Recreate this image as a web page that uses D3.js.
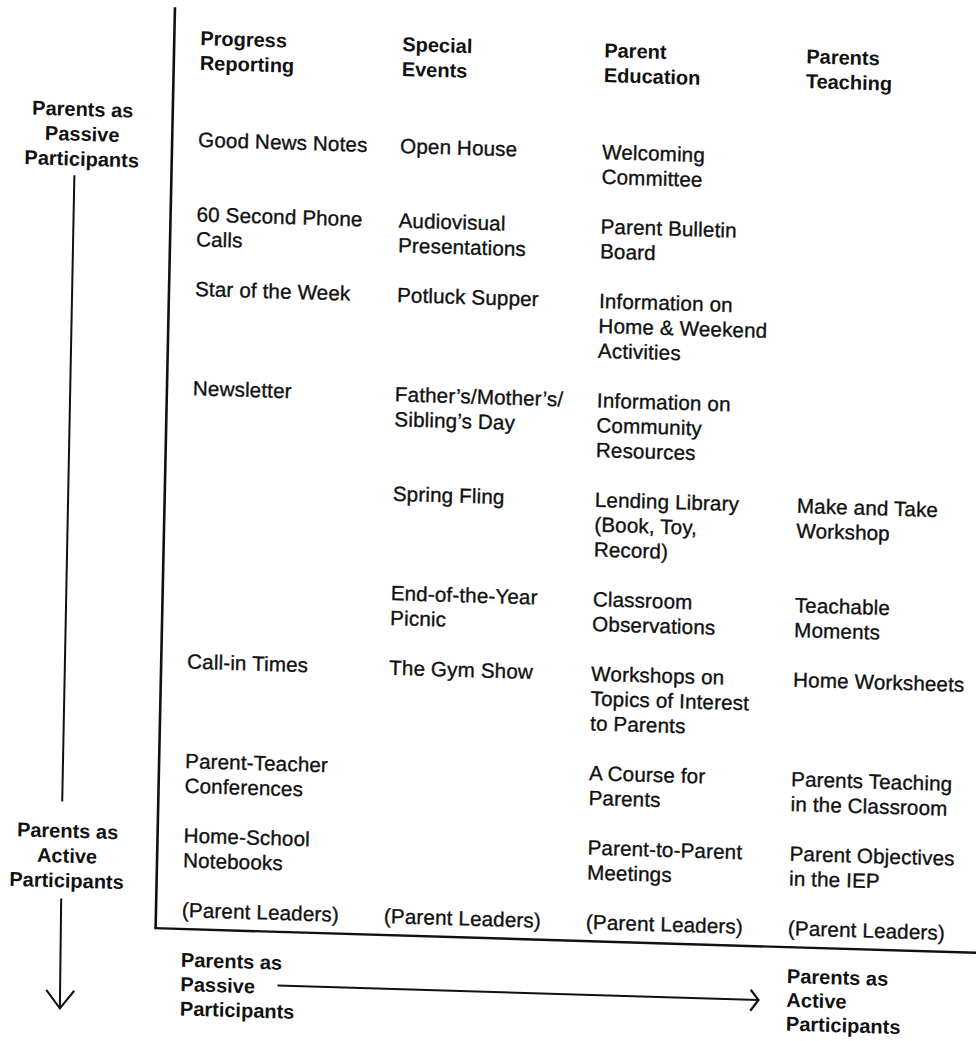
<!DOCTYPE html>
<html>
<head>
<meta charset="utf-8">
<script src="https://cdn.jsdelivr.net/npm/d3@7"></script>
<style>
  html, body { margin: 0; padding: 0; background: #fff; }
  svg { display: block; }
  text { font-family: "Liberation Sans", Arial, Helvetica, sans-serif; fill: #111; }
  text.cell { stroke: #111; stroke-width: 0.35px; letter-spacing: 0.15px; }
</style>
</head>
<body>
<script>
// ---------- data ----------
const columnHeaders = [
  "Progress\nReporting",
  "Special\nEvents",
  "Parent\nEducation",
  "Parents\nTeaching"
];
const row1  = ["Good News Notes", "Open House", "Welcoming\nCommittee", ""];
const row2  = ["60 Second Phone\nCalls", "Audiovisual\nPresentations", "Parent Bulletin\nBoard", ""];
const row3  = ["Star of the Week", "Potluck Supper", "Information on\nHome & Weekend\nActivities", ""];
const row4  = ["Newsletter", "Father’s/Mother’s/\nSibling’s Day", "Information on\nCommunity\nResources", ""];
const row5  = ["", "Spring Fling", "Lending Library\n(Book, Toy,\nRecord)", "Make and Take\nWorkshop"];
const row6  = ["", "End-of-the-Year\nPicnic", "Classroom\nObservations", "Teachable\nMoments"];
const row7  = ["Call-in Times", "The Gym Show", "Workshops on\nTopics of Interest\nto Parents", "Home Worksheets"];
const row8  = ["Parent-Teacher\nConferences", "", "A Course for\nParents", "Parents Teaching\nin the Classroom"];
const row9  = ["Home-School\nNotebooks", "", "Parent-to-Parent\nMeetings", "Parent Objectives\nin the IEP"];
const row10 = ["(Parent Leaders)", "(Parent Leaders)", "(Parent Leaders)", "(Parent Leaders)"];
const bodyRows = [row1, row2, row3, row4, row5, row6, row7, row8, row9, row10];

const passiveLabel = ["Parents as", "Passive", "Participants"];
const activeLabel  = ["Parents as", "Active", "Participants"];

// ---------- layout ----------
const W = 976, H = 1041;
const SHEAR_X = 0.021, SHEAR_Y = 0.030;   // slight tilt of the scanned page
const FONT = 20.6;

const svg = d3.select("body").append("svg").attr("width", W).attr("height", H);
svg.append("rect").attr("width", W).attr("height", H).attr("fill", "#fff");

const g = svg.append("g")
  .attr("transform", `matrix(1 ${SHEAR_Y} ${-SHEAR_X} 1 0 0)`);

// x: columns
const xCol = d3.scalePoint().domain(d3.range(columnHeaders.length)).range([201, 807]);
// y: line units -> px
const yUnit = d3.scaleLinear().domain([0, 35.1]).range([39, 911]);

const nLines = s => s ? s.split("\n").length : 0;

// compute row starting units
const headerUnits = 4.1;
const rowStart = [];
let u = headerUnits;
bodyRows.forEach(r => {
  rowStart.push(u);
  u += d3.max(r, nLines) + 1;
});

function multiText(sel, x, unit, str, opts = {}) {
  const step = opts.step || 1;
  const t = sel.append("text")
    .attr("class", opts.bold ? "label" : "cell")
    .attr("x", x)
    .attr("y", yUnit(unit))
    .attr("font-size", opts.size || (opts.bold ? 20 : FONT))
    .attr("font-weight", opts.bold ? "bold" : "normal")
    .attr("text-anchor", opts.anchor || "start");
  str.split("\n").forEach((line, i) => {
    t.append("tspan").attr("x", x).attr("y", yUnit(unit + i * step)).text(line);
  });
  return t;
}

// headers
columnHeaders.forEach((h, i) => multiText(g, xCol(i), 0, h, { bold: true }));

// body cells
bodyRows.forEach((r, ri) => {
  r.forEach((cell, ci) => {
    if (cell) multiText(g, xCol(ci), rowStart[ri], cell);
  });
});

// frame lines (vertical at left of table, horizontal below)
const frameX = 175;
const lastRow = rowStart[rowStart.length - 1];
g.append("line")
  .attr("x1", frameX).attr("y1", yUnit(-1.49))
  .attr("x2", frameX).attr("y2", yUnit(lastRow + 0.48))
  .attr("stroke", "#111").attr("stroke-width", 2.6);
g.append("line")
  .attr("x1", frameX - 1.3).attr("y1", yUnit(lastRow + 0.48))
  .attr("x2", 1010).attr("y2", yUnit(lastRow + 0.48))
  .attr("stroke", "#111").attr("stroke-width", 2.4);

// bottom labels and horizontal arrow
const labUnit = lastRow + 2.0;
multiText(g, xCol(0), labUnit, passiveLabel.join("\n"), { bold: true, step: 0.98 });
multiText(g, xCol(3), labUnit - 0.08, activeLabel.join("\n"), { bold: true, step: 0.96 });
const arrowY = yUnit(labUnit + 0.64);
g.append("line")
  .attr("x1", 298).attr("y1", arrowY).attr("x2", 779).attr("y2", arrowY)
  .attr("stroke", "#111").attr("stroke-width", 2);
g.append("polyline")
  .attr("points", [[771, arrowY - 10], [779, arrowY], [771, arrowY + 11]].join(" "))
  .attr("fill", "none").attr("stroke", "#111").attr("stroke-width", 2.2)
  .attr("stroke-linejoin", "miter");

// left vertical axis: labels + arrow
const leftX = 85;
multiText(g, leftX, 3.0, passiveLabel.join("\n"), { bold: true, anchor: "middle" });
multiText(g, leftX, 32.05, activeLabel.join("\n"), { bold: true, anchor: "middle" });
g.append("line")
  .attr("x1", 78).attr("y1", yUnit(5.39)).attr("x2", 79).attr("y2", yUnit(30.6))
  .attr("stroke", "#111").attr("stroke-width", 2);
const tipY = yUnit(38.92);
g.append("line")
  .attr("x1", 80).attr("y1", yUnit(34.5)).attr("x2", 81).attr("y2", tipY)
  .attr("stroke", "#111").attr("stroke-width", 2);
g.append("polyline")
  .attr("points", [[67, tipY - 18], [81, tipY], [95, tipY - 18]].join(" "))
  .attr("fill", "none").attr("stroke", "#111").attr("stroke-width", 2);
</script>
</body>
</html>
